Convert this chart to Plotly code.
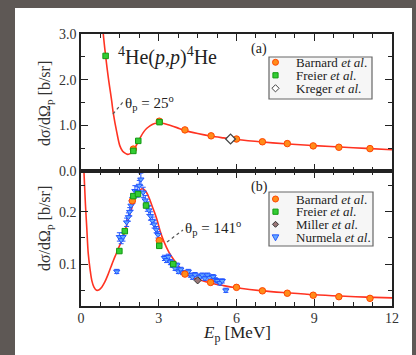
import plotly.graph_objects as go

# ---------------- data ----------------
# panel (a): theta_p = 25 deg
curve_a_E = [0.80, 0.86, 0.95, 1.05, 1.18, 1.25, 1.38, 1.50, 1.60, 1.70, 1.80, 1.90, 2.02,
             2.15, 2.28, 2.40, 2.53, 2.66, 2.79, 2.92, 3.05, 3.20, 3.43, 3.70, 4.00, 4.50,
             5.00, 5.50, 6.00, 7.00, 8.00, 9.00, 10.0, 11.0, 12.0]
curve_a_s = [3.50, 3.00, 2.52, 2.06, 1.55, 1.25, 0.85, 0.55, 0.44, 0.39, 0.365, 0.38, 0.45,
             0.58, 0.72, 0.84, 0.93, 0.99, 1.03, 1.045, 1.05, 1.04, 1.00, 0.95, 0.89, 0.82,
             0.765, 0.725, 0.69, 0.635, 0.59, 0.555, 0.525, 0.495, 0.465]
barnard_a_E = [2.02, 3.02, 4.01, 5.02, 6.00, 7.00, 7.96, 8.96, 9.95, 11.15]
barnard_a_s = [0.48, 1.09, 0.90, 0.77, 0.70, 0.64, 0.60, 0.55, 0.52, 0.49]
freier_a_E = [0.95, 2.02, 2.21, 3.03]
freier_a_s = [2.52, 0.44, 0.66, 1.07]
kreger_a_E = [5.77]
kreger_a_s = [0.70]

# panel (b): theta_p = 141 deg
curve_b_E = [0.08, 0.12, 0.17, 0.22, 0.28, 0.35, 0.42, 0.50, 0.60, 0.70, 0.80, 0.92, 1.05,
             1.15, 1.25, 1.35, 1.45, 1.55, 1.70, 1.85, 1.95, 2.05, 2.15, 2.25, 2.35, 2.45,
             2.55, 2.65, 2.75, 2.85, 2.95, 3.05, 3.20, 3.40, 3.60, 3.80, 4.00, 4.50, 5.00,
             5.50, 6.00, 7.00, 8.00, 9.00, 10.0, 11.0, 12.0]
curve_b_s = [0.34, 0.27, 0.215, 0.172, 0.12, 0.09, 0.068, 0.056, 0.050, 0.051, 0.056, 0.066,
             0.081, 0.094, 0.107, 0.119, 0.131, 0.142, 0.164, 0.190, 0.206, 0.221, 0.232,
             0.240, 0.244, 0.242, 0.235, 0.224, 0.210, 0.197, 0.182, 0.164, 0.143, 0.122,
             0.107, 0.094, 0.083, 0.071, 0.064, 0.059, 0.055, 0.049, 0.045, 0.0415, 0.039,
             0.037, 0.0355]
barnard_b_E = [1.98, 3.02, 4.01, 5.00, 6.00, 7.00, 7.96, 8.96, 9.95, 11.15]
barnard_b_s = [0.221, 0.145, 0.081, 0.065, 0.0556, 0.049, 0.0444, 0.0406, 0.0378, 0.0346]
freier_b_E = [1.48, 1.69, 2.02, 2.20, 2.51, 3.02, 3.56]
freier_b_s = [0.125, 0.163, 0.230, 0.234, 0.212, 0.135, 0.100]
miller_b_E = [4.50]
miller_b_s = [0.069]
nurmela_E = [1.38, 1.48, 1.55, 1.62, 1.76, 1.83, 1.88, 1.93, 2.00, 2.08, 2.17, 2.25, 2.31,
             2.40, 2.48, 2.56, 2.62, 2.68, 2.75, 2.82, 2.90, 2.97, 3.22, 3.30, 3.37, 3.45,
             3.52, 3.63, 3.70, 3.76, 3.85, 3.92, 4.05, 4.14, 4.22, 4.30, 4.40, 4.60, 4.68,
             4.78, 4.88, 4.96, 5.10, 5.18, 5.26, 5.36, 5.45, 5.59]
nurmela_s = [0.086, 0.152, 0.146, 0.152, 0.180, 0.190, 0.200, 0.212, 0.225, 0.240, 0.238,
             0.250, 0.262, 0.237, 0.222, 0.210, 0.203, 0.192, 0.183, 0.176, 0.166, 0.156,
             0.112, 0.108, 0.114, 0.104, 0.098, 0.092, 0.098, 0.086, 0.090, 0.084, 0.083,
             0.086, 0.079, 0.075, 0.080, 0.076, 0.079, 0.073, 0.079, 0.074, 0.076, 0.070,
             0.068, 0.064, 0.068, 0.050]
nurmela_err = [0.004, 0.008, 0.007, 0.008, 0.008, 0.008, 0.008, 0.009, 0.009, 0.010, 0.010,
               0.010, 0.012, 0.010, 0.009, 0.009, 0.008, 0.008, 0.007, 0.007, 0.006, 0.006,
               0.005, 0.005, 0.005, 0.005, 0.004, 0.004, 0.004, 0.004, 0.004, 0.004, 0.004,
               0.004, 0.004, 0.004, 0.004, 0.004, 0.004, 0.004, 0.004, 0.004, 0.004, 0.004,
               0.004, 0.004, 0.004, 0.004]

x_ticks = [0, 3, 6, 9, 12]
legend_a = ["Barnard <i>et al</i>.", "Freier <i>et al</i>.", "Kreger <i>et al</i>."]
legend_b = ["Barnard <i>et al</i>.", "Freier <i>et al</i>.", "Miller <i>et al</i>.",
            "Nurmela <i>et al</i>."]

# ---------------- styles ----------------
FONT = "Liberation Serif, Times New Roman, serif"
RED = "#ff3322"
BAR = dict(symbol="circle", size=6.5, color="#ff8c1a", line=dict(color="#ff4400", width=1))
FRE = dict(symbol="square", size=5.5, color="#33cc33", line=dict(color="#119911", width=1))
KRE = dict(symbol="diamond", size=7.5, color="#ffffff", line=dict(color="#444444", width=1.3))
MIL = dict(symbol="diamond", size=5.5, color="#997777", line=dict(color="#333333", width=1))
NUR = dict(symbol="triangle-down", size=5.5, color="#66aaff", line=dict(color="#2255ff", width=1))

fig = go.Figure()
# panel (a)
fig.add_trace(go.Scatter(x=curve_a_E, y=curve_a_s, mode="lines", line=dict(color=RED, width=1.6, shape="spline"),
                         xaxis="x2", yaxis="y2", showlegend=False))
fig.add_trace(go.Scatter(x=barnard_a_E, y=barnard_a_s, mode="markers", marker=BAR, xaxis="x2", yaxis="y2", showlegend=False))
fig.add_trace(go.Scatter(x=freier_a_E, y=freier_a_s, mode="markers", marker=FRE, xaxis="x2", yaxis="y2", showlegend=False))
fig.add_trace(go.Scatter(x=kreger_a_E, y=kreger_a_s, mode="markers", marker=KRE, xaxis="x2", yaxis="y2", showlegend=False))
# panel (b)
fig.add_trace(go.Scatter(x=curve_b_E, y=curve_b_s, mode="lines", line=dict(color=RED, width=1.6, shape="spline"),
                         xaxis="x", yaxis="y", showlegend=False))
fig.add_trace(go.Scatter(x=nurmela_E, y=nurmela_s, mode="markers", marker=NUR,
                         error_y=dict(type="data", array=nurmela_err, color="#2255ff", thickness=1, width=2.5),
                         xaxis="x", yaxis="y", showlegend=False))
fig.add_trace(go.Scatter(x=barnard_b_E, y=barnard_b_s, mode="markers", marker=BAR, xaxis="x", yaxis="y", showlegend=False))
fig.add_trace(go.Scatter(x=freier_b_E, y=freier_b_s, mode="markers", marker=FRE, xaxis="x", yaxis="y", showlegend=False))
fig.add_trace(go.Scatter(x=miller_b_E, y=miller_b_s, mode="markers", marker=MIL, xaxis="x", yaxis="y", showlegend=False))

# ---------------- layout helpers ----------------
L, R, T, B, W, H = 81, 392, 34, 306, 416, 355
def px(x):
    return (x - L) / (R - L)
def py(y):
    return (B - y) / (B - T)

split = py(171)
axis_common = dict(showline=True, linecolor="#222222", linewidth=1.5, mirror="ticks", ticks="inside",
                   ticklen=7, tickwidth=1.2, tickcolor="#222222", showgrid=False, zeroline=False,
                   tickfont=dict(family=FONT, size=14, color="#333333"))

fig.update_layout(
    width=W, height=H,
    margin=dict(l=L, r=W - R, t=T, b=H - B),
    paper_bgcolor="#5e5855", plot_bgcolor="#ffffff",
    showlegend=False,
    xaxis=dict(domain=[0, 1], anchor="y", range=[0, 12], tickvals=x_ticks, ticklabelstandoff=-2,
               minor=dict(dtick=0.75, ticks="inside", ticklen=4, tickcolor="#222222"),
               **axis_common),
    xaxis2=dict(domain=[0, 1], anchor="y2", matches="x", range=[0, 12], tickvals=x_ticks, showticklabels=False,
                minor=dict(dtick=0.75, ticks="inside", ticklen=4, tickcolor="#222222"), **axis_common),
    yaxis=dict(domain=[0, split], anchor="x", range=[0.02, 0.278], tick0=0, dtick=0.1, tickformat=".1f",
               minor=dict(dtick=0.05, ticks="inside", ticklen=4, tickcolor="#222222"), **axis_common),
    yaxis2=dict(domain=[split, 1], anchor="x2", range=[0, 3], tick0=0, dtick=1, tickformat=".1f",
                minor=dict(dtick=0.5, ticks="inside", ticklen=4, tickcolor="#222222"), **axis_common),
)

shapes = []
annos = []
# white page panel
shapes.append(dict(type="rect", xref="paper", yref="paper", x0=px(15), x1=px(412), y0=py(H + 5), y1=py(8),
                   fillcolor="#ffffff", line=dict(width=0), layer="below"))

# legends (boxes, keys, labels)
def legend(box, items, labels, styles):
    x0, x1, y0, y1 = box
    shapes.append(dict(type="rect", xref="paper", yref="paper", x0=px(x0), x1=px(x1), y0=py(y1), y1=py(y0),
                       fillcolor="#f6f6f6", line=dict(color="#666666", width=1.2)))
    for yy, lab, st in zip(items, labels, styles):
        kx, ky = px(x0 + 6.5), py(yy)
        kind, fc, lc, r = st
        base = dict(xref="paper", yref="paper", xsizemode="pixel", ysizemode="pixel", xanchor=kx, yanchor=ky,
                    fillcolor=fc, line=dict(color=lc, width=1))
        if kind == "circle":
            shapes.append(dict(type="circle", x0=-r, x1=r, y0=-r, y1=r, **base))
        elif kind == "square":
            shapes.append(dict(type="rect", x0=-r, x1=r, y0=-r, y1=r, **base))
        elif kind == "diamond":
            shapes.append(dict(type="path", path=f"M {-r} 0 L 0 {r} L {r} 0 L 0 {-r} Z", **base))
        elif kind == "tri":
            shapes.append(dict(type="path", path=f"M {-r} {r*0.8} L {r} {r*0.8} L 0 {-r} Z", **base))
        annos.append(dict(xref="paper", yref="paper", x=px(x0 + 25), y=ky, xanchor="left", yanchor="middle",
                          text=lab, showarrow=False, font=dict(family=FONT, size=13, color="#222222")))

legend((269, 372, 57, 99), [62.3, 75.3, 88.3], legend_a,
       [("circle", "#ff8c1a", "#ff4400", 3.0), ("square", "#33cc33", "#119911", 2.6),
        ("diamond", "#ffffff", "#444444", 3.6)])
legend((269, 373, 192, 246), [199, 211.7, 224.3, 237.5], legend_b,
       [("circle", "#ff8c1a", "#ff4400", 3.0), ("square", "#33cc33", "#119911", 2.6),
        ("diamond", "#997777", "#333333", 3.0), ("tri", "#66aaff", "#2255ff", 3.3)])

# text labels
def txt(x, y, s, size, anchor="left", angle=0):
    annos.append(dict(xref="paper", yref="paper", x=px(x), y=py(y), xanchor=anchor, yanchor="middle",
                      textangle=angle, text=s, showarrow=False,
                      font=dict(family=FONT, size=size, color="#222222")))

txt(116, 56, "<sup>4</sup>He(<i>p</i>,<i>p</i>)<sup>4</sup>He", 20)
txt(249, 49, "(a)", 14)
txt(249, 187, "(b)", 14)
txt(123, 103, "θ<sub>p</sub> = 25<sup>o</sup>", 15)
txt(183, 228, "θ<sub>p</sub> = 141<sup>o</sup>", 15)
txt(236.5, 334, "<i>E</i><sub>p</sub> [MeV]", 17, anchor="center")

# dotted leaders
for (xa, ya, xb, yb) in [(113, 114, 123, 102), (167, 242, 183, 230)]:
    shapes.append(dict(type="line", xref="paper", yref="paper", x0=px(xa), y0=py(ya), x1=px(xb), y1=py(yb),
                       line=dict(color="#555555", width=1.2, dash="dot")))

# y-axis titles
for yc in (104, 229):
    annos.append(dict(xref="paper", yref="paper", x=px(45), y=py(yc), xanchor="center", yanchor="middle",
                      textangle=-90, text="dσ/dΩ<sub>p</sub> [b/sr]", showarrow=False,
                      font=dict(family=FONT, size=16, color="#333333")))

fig.update_layout(shapes=shapes, annotations=annos)
fig.write_html("out.html")
